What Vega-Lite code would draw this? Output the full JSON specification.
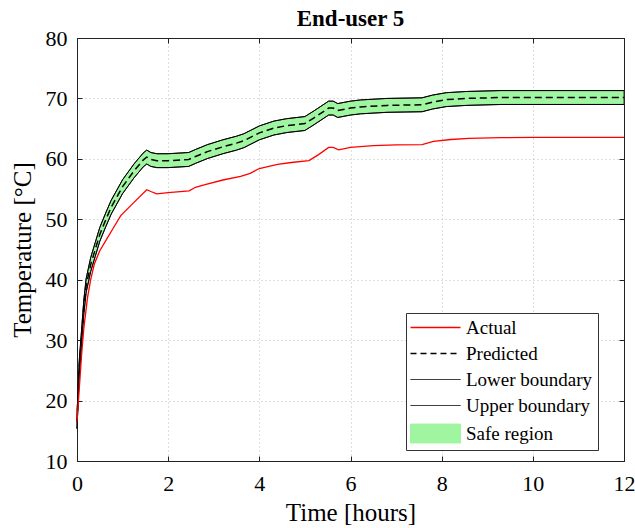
{
  "$schema": "https://vega.github.io/schema/vega-lite/v6.json",
  "width": 547,
  "height": 423,
  "autosize": {"type": "none"},
  "padding": {"left": 77, "top": 38, "right": 11, "bottom": 67},
  "background": "white",
  "title": {"text": "End-user 5", "font": "Liberation Serif", "fontSize": 23, "fontWeight": "bold", "color": "#000000", "anchor": "middle", "offset": -4},
  "config": {
    "font": "Liberation Serif",
    "view": {"stroke": "#222222", "strokeWidth": 1},
    "axis": {"labelFont": "Liberation Serif", "titleFont": "Liberation Serif", "labelColor": "#000000", "titleColor": "#000000", "domainColor": "#222222", "tickColor": "#222222", "titleFontWeight": "normal"},
    "legend": {"labelFont": "Liberation Serif"}
  },
  "datasets": {
    "pred": [
      {"t": 0, "p": 16.5, "lo": 15.35, "hi": 17.65},
      {"t": 0.05, "p": 25.5, "lo": 24.35, "hi": 26.65},
      {"t": 0.1, "p": 30.5, "lo": 29.35, "hi": 31.65},
      {"t": 0.15, "p": 35.5, "lo": 34.35, "hi": 36.65},
      {"t": 0.2, "p": 39.0, "lo": 37.85, "hi": 40.15},
      {"t": 0.3, "p": 42.5, "lo": 41.35, "hi": 43.65},
      {"t": 0.4, "p": 45.0, "lo": 43.85, "hi": 46.15},
      {"t": 0.5, "p": 47.5, "lo": 46.35, "hi": 48.65},
      {"t": 0.63, "p": 49.9, "lo": 48.75, "hi": 51.05},
      {"t": 0.75, "p": 52.0, "lo": 50.85, "hi": 53.15},
      {"t": 1.0, "p": 55.4, "lo": 54.25, "hi": 56.55},
      {"t": 1.25, "p": 58.0, "lo": 56.85, "hi": 59.15},
      {"t": 1.45, "p": 59.8, "lo": 58.65, "hi": 60.95},
      {"t": 1.53, "p": 60.3, "lo": 59.15, "hi": 61.45},
      {"t": 1.62, "p": 59.9, "lo": 58.75, "hi": 61.05},
      {"t": 1.75, "p": 59.7, "lo": 58.55, "hi": 60.85},
      {"t": 2.0, "p": 59.7, "lo": 58.55, "hi": 60.85},
      {"t": 2.45, "p": 59.9, "lo": 58.75, "hi": 61.05},
      {"t": 2.6, "p": 60.4, "lo": 59.25, "hi": 61.55},
      {"t": 2.86, "p": 61.2, "lo": 60.05, "hi": 62.35},
      {"t": 3.2, "p": 62.0, "lo": 60.85, "hi": 63.15},
      {"t": 3.5, "p": 62.6, "lo": 61.45, "hi": 63.75},
      {"t": 3.66, "p": 63.0, "lo": 61.85, "hi": 64.15},
      {"t": 4.0, "p": 64.3, "lo": 63.15, "hi": 65.45},
      {"t": 4.32, "p": 65.1, "lo": 63.95, "hi": 66.25},
      {"t": 4.6, "p": 65.5, "lo": 64.35, "hi": 66.65},
      {"t": 5.0, "p": 65.85, "lo": 64.7, "hi": 67.0},
      {"t": 5.2, "p": 66.8, "lo": 65.65, "hi": 67.95},
      {"t": 5.52, "p": 68.4, "lo": 67.25, "hi": 69.55},
      {"t": 5.62, "p": 68.4, "lo": 67.25, "hi": 69.55},
      {"t": 5.72, "p": 68.0, "lo": 66.85, "hi": 69.15},
      {"t": 6.0, "p": 68.4, "lo": 67.25, "hi": 69.55},
      {"t": 6.22, "p": 68.6, "lo": 67.45, "hi": 69.75},
      {"t": 6.8, "p": 68.85, "lo": 67.7, "hi": 70.0},
      {"t": 7.57, "p": 68.95, "lo": 67.8, "hi": 70.1},
      {"t": 7.8, "p": 69.4, "lo": 68.25, "hi": 70.55},
      {"t": 8.1, "p": 69.8, "lo": 68.65, "hi": 70.95},
      {"t": 8.55, "p": 70.0, "lo": 68.85, "hi": 71.15},
      {"t": 9.3, "p": 70.15, "lo": 69.0, "hi": 71.3},
      {"t": 12, "p": 70.15, "lo": 69.0, "hi": 71.3}
    ],
    "actual": [
      {"t": 0, "v": 16.5},
      {"t": 0.05, "v": 22.0},
      {"t": 0.1, "v": 27.5},
      {"t": 0.15, "v": 32.0},
      {"t": 0.23, "v": 37.0},
      {"t": 0.3, "v": 40.0},
      {"t": 0.38, "v": 42.6},
      {"t": 0.5, "v": 44.8},
      {"t": 0.635, "v": 46.5},
      {"t": 0.8, "v": 48.6},
      {"t": 0.96, "v": 50.6},
      {"t": 1.25, "v": 52.8},
      {"t": 1.53, "v": 54.9},
      {"t": 1.62, "v": 54.6},
      {"t": 1.75, "v": 54.2},
      {"t": 2.0, "v": 54.4},
      {"t": 2.46, "v": 54.7},
      {"t": 2.6, "v": 55.3},
      {"t": 2.79, "v": 55.7},
      {"t": 3.2, "v": 56.5},
      {"t": 3.59, "v": 57.1},
      {"t": 3.8, "v": 57.6},
      {"t": 4.0, "v": 58.4},
      {"t": 4.4, "v": 59.1},
      {"t": 4.7, "v": 59.4},
      {"t": 5.09, "v": 59.7},
      {"t": 5.3, "v": 60.7},
      {"t": 5.52, "v": 61.9},
      {"t": 5.62, "v": 61.9},
      {"t": 5.74, "v": 61.5},
      {"t": 6.0, "v": 61.9},
      {"t": 6.5, "v": 62.2},
      {"t": 7.0, "v": 62.3},
      {"t": 7.57, "v": 62.35},
      {"t": 7.82, "v": 62.9},
      {"t": 8.2, "v": 63.2},
      {"t": 8.6, "v": 63.4},
      {"t": 9.3, "v": 63.5},
      {"t": 10, "v": 63.55},
      {"t": 12, "v": 63.55}
    ]
  },
  "resolve": {"axis": {"x": "independent", "y": "independent"}},
  "layer": [
    {
      "data": {"name": "pred"},
      "mark": {"type": "area", "stroke": "#333333", "strokeWidth": 1},
      "encoding": {
        "x": {"field": "t", "type": "quantitative", "scale": {"domain": [0, 12], "nice": false},
          "axis": {"orient": "bottom", "values": [0, 2, 4, 6, 8, 10, 12], "title": "Time [hours]", "titleFontSize": 25, "labelFontSize": 22, "tickSize": -5, "labelPadding": 17, "titlePadding": 6, "grid": true, "gridColor": "#bdbdbd", "gridDash": [1, 3], "gridWidth": 1, "labelFlush": false}},
        "y": {"field": "lo", "type": "quantitative", "scale": {"domain": [10, 80], "nice": false},
          "axis": {"orient": "left", "values": [10, 20, 30, 40, 50, 60, 70, 80], "title": "Temperature [°C]", "titleFontSize": 25, "labelFontSize": 22, "tickSize": -5, "labelPadding": 15, "titlePadding": 10, "grid": true, "gridColor": "#bdbdbd", "gridDash": [1, 3], "gridWidth": 1}},
        "y2": {"field": "hi"},
        "color": {"datum": "Safe region", "type": "nominal",
          "scale": {"domain": ["Actual", "Predicted", "Lower boundary", "Upper boundary", "Safe region"], "range": ["#ff0000", "#000000", "#000000", "#000000", "#a0f5a0"]},
          "legend": {
            "orient": "none", "legendX": 329, "legendY": 275, "title": null,
            "labelFont": "Liberation Serif", "labelFontSize": 19, "labelColor": "#000000", "labelOffset": 21, "labelLimit": 400,
            "labelExpr": "datum.label + '\u2003\u2003\u2003\u2003'",
            "padding": 5, "rowPadding": 6, "symbolOffset": 15,
            "strokeColor": "#333333", "fillColor": "#ffffff",
            "symbolType": "M-2.5,0H2.5", "symbolSize": 400,
            "symbolStrokeColor": "#333333", "symbolStrokeWidth": 1,
            "encode": {"symbols": {"update": {
              "shape": {"signal": "datum.value === 'Safe region' ? 'M-2.5,-0.95H2.5V0.95H-2.5Z' : 'M-2.5,0H2.5'"},
              "fill": {"signal": "datum.value === 'Safe region' ? '#a0f5a0' : 'transparent'"},
              "stroke": {"signal": "datum.value === 'Actual' ? '#ff0000' : (datum.value === 'Safe region' ? '#333333' : '#000000')"},
              "strokeDash": {"signal": "datum.value === 'Predicted' ? [6, 4] : [1, 0]"},
              "strokeWidth": {"signal": "datum.value === 'Predicted' ? 1.5 : (datum.value === 'Actual' ? 1.3 : 1)"},
              "strokeOpacity": {"value": 1},
              "fillOpacity": {"value": 1},
              "opacity": {"value": 1}
            }}}
          }}
      }
    },
    {
      "data": {"name": "pred"},
      "mark": {"type": "line", "strokeWidth": 1},
      "encoding": {
        "x": {"field": "t", "type": "quantitative", "axis": null},
        "y": {"field": "lo", "type": "quantitative", "axis": null},
        "color": {"datum": "Lower boundary", "type": "nominal"}
      }
    },
    {
      "data": {"name": "pred"},
      "mark": {"type": "line", "strokeWidth": 1},
      "encoding": {
        "x": {"field": "t", "type": "quantitative", "axis": null},
        "y": {"field": "hi", "type": "quantitative", "axis": null},
        "color": {"datum": "Upper boundary", "type": "nominal"}
      }
    },
    {
      "data": {"name": "pred"},
      "mark": {"type": "line", "strokeWidth": 1.5, "strokeDash": [7, 4]},
      "encoding": {
        "x": {"field": "t", "type": "quantitative", "axis": null},
        "y": {"field": "p", "type": "quantitative", "axis": null},
        "color": {"datum": "Predicted", "type": "nominal"}
      }
    },
    {
      "data": {"name": "actual"},
      "mark": {"type": "line", "strokeWidth": 1.3},
      "encoding": {
        "x": {"field": "t", "type": "quantitative",
          "axis": {"orient": "top", "values": [0, 2, 4, 6, 8, 10, 12], "labels": false, "title": null, "tickSize": -5, "grid": false, "minExtent": 0, "maxExtent": 0}},
        "y": {"field": "v", "type": "quantitative",
          "axis": {"orient": "right", "values": [10, 20, 30, 40, 50, 60, 70, 80], "labels": false, "title": null, "tickSize": -5, "grid": false, "minExtent": 0, "maxExtent": 0}},
        "color": {"datum": "Actual", "type": "nominal"}
      }
    }
  ]
}
